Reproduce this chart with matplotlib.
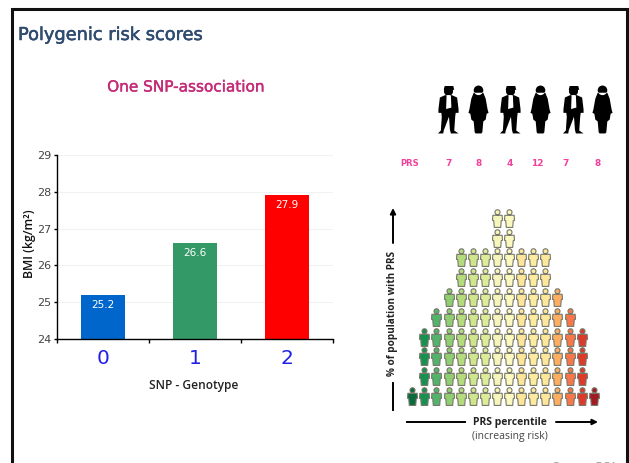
import matplotlib
matplotlib.use("Agg")
import matplotlib.pyplot as plt
import matplotlib.ticker as ticker
import matplotlib.patheffects as pe
from matplotlib.path import Path

W, H = 629, 463

# ---------------------------  Bar chart values  --------------------------- #
genotypes = ["0", "1", "2"]
bmi = [25.2, 26.6, 27.9]
bar_colors = ["#0066cc", "#339966", "#ff0000"]

# ---------------------------  Pictogram values  --------------------------- #
# Number of people stacked in each PRS percentile column (100 in total)
column_counts = [1, 4, 5, 6, 8, 8, 8, 10, 10, 8, 8, 8, 6, 5, 4, 1]
column_colors = ["#0b6b3a", "#17914f", "#52b36a", "#8fcf72", "#b4dc7c", "#cfe68c",
                 "#dcec98", "#f6f6bc", "#fbf8c0", "#fde59a", "#fdeb9f", "#fde79b",
                 "#fdae61", "#f8774a", "#dc3a2a", "#a01c24"]

# --------------------------  Individuals row  ----------------------------- #
prs_scores = ["7", "8", "4", "12", "7", "8"]
prs_label_x = [449, 479, 510, 537, 566, 598]
people_x = [448, 478, 510, 540, 573, 602]
people_kind = ["man", "woman", "man", "woman", "man", "woman"]


def person_marker():
    """Small pictogram figure: head plus stocky body."""
    body = Path([(-0.52, 0.36), (0.52, 0.36), (0.56, -0.2), (0.42, -0.24), (0.36, -1.0),
                 (-0.36, -1.0), (-0.42, -0.24), (-0.56, -0.2), (-0.52, 0.36)], closed=True)
    head = Path.circle((0, 0.7), 0.28)
    return Path.make_compound_path(head, body)


def man_marker():
    head = Path.circle((0.0, 0.76), 0.19)
    hat = Path([(-0.2, 0.82), (0.24, 0.82), (0.2, 0.98), (-0.16, 0.98), (-0.2, 0.82)], closed=True)
    body = Path([(-0.14, 0.6), (0.14, 0.6), (0.36, 0.5), (0.42, 0.0), (0.42, -0.14), (0.3, -0.14),
                 (0.28, -0.3), (0.24, -0.88), (0.42, -1.0), (0.1, -1.0), (0.06, -0.85),
                 (0.02, -0.3), (-0.2, -0.88), (-0.22, -1.0), (-0.44, -1.0), (-0.32, -0.88),
                 (-0.28, -0.3), (-0.3, -0.14), (-0.42, -0.14), (-0.42, 0.0),
                 (-0.36, 0.5), (-0.14, 0.6)], closed=True)
    return Path.make_compound_path(head, hat, body)


def shirt_marker():
    # The stray point keeps this marker on the same scale as the full figure
    anchor = Path([(0, 1.0), (0, 1.0)])
    shirt = Path([(-0.08, 0.58), (0.1, 0.58), (0.12, 0.08), (-0.1, 0.02), (-0.08, 0.58)], closed=True)
    return Path.make_compound_path(anchor, shirt)


def woman_marker():
    head = Path.circle((0.0, 0.8), 0.2)
    body = Path([(-0.2, 0.7), (0.2, 0.7), (0.3, 0.45), (0.38, 0.0), (0.42, -0.14), (0.34, -0.18),
                 (0.3, -0.42), (0.2, -0.5), (0.16, -0.95), (0.12, -1.0), (-0.12, -1.0), (-0.16, -0.95),
                 (-0.2, -0.5), (-0.3, -0.42), (-0.34, -0.18), (-0.42, -0.14), (-0.38, 0.0),
                 (-0.3, 0.45), (-0.2, 0.7)], closed=True)
    return Path.make_compound_path(head, body)


fig = plt.figure(figsize=(W / 100, H / 100), dpi=100, facecolor="white")

# Full-figure layer in pixel coordinates for the frame and free text
bg = fig.add_axes([0, 0, 1, 1])
bg.set_xlim(0, W)
bg.set_ylim(H, 0)
bg.axis("off")

bg.plot([11.5, 11.5, 626.5, 626.5], [H + 5, 8.5, 8.5, H + 5], color="#111111", lw=2.2,
        solid_joinstyle="miter")

# A thin stroke thickens the headings a little
title = bg.text(18, 35, "Polygenic risk scores", color="#2f4b6e", fontsize=12.8, va="center", ha="left")
title.set_path_effects([pe.withStroke(linewidth=0.4, foreground="#2f4b6e")])
subtitle = bg.text(186, 87, "One SNP-association", color="#c42b78", fontsize=11, va="center", ha="center")
subtitle.set_path_effects([pe.withStroke(linewidth=0.3, foreground="#c42b78")])
bg.text(553, 467, "Source: BCA", color="#999999", fontsize=7.5, va="center", ha="left", clip_on=True)

# ------------  Individuals with their scores  ------------ #
bg.text(410, 163, "PRS", color="#f0409c", fontsize=6, fontweight="bold", ha="center", va="center")
for x, score in zip(prs_label_x, prs_scores):
    bg.text(x, 163, score, color="#f0409c", fontsize=6.5, fontweight="bold", ha="center", va="center")

for x, kind in zip(people_x, people_kind):
    if kind == "man":
        bg.scatter([x], [109], marker=man_marker(), s=1190, color="black", linewidths=0)
        bg.scatter([x], [109], marker=shirt_marker(), s=1190, color="white", linewidths=0)
    else:
        bg.scatter([x], [109], marker=woman_marker(), s=1190, color="black", linewidths=0)

# ------------  PRS pictogram  ------------ #
grid = fig.add_axes([406.2 / W, 1 - 405.9 / H, 193.6 / W, 198 / H])
grid.set_xlim(-0.5, 15.5)
grid.set_ylim(-0.5, 9.5)
grid.axis("off")
grid.patch.set_alpha(0)
marker = person_marker()
for col, (count, color) in enumerate(zip(column_counts, column_colors)):
    grid.scatter([col] * count, list(range(count)), marker=marker, s=165, color=color,
                 edgecolors="#77776a", linewidths=0.8, zorder=2)

bg.set_zorder(0)
grid.set_zorder(1)

# Arrows around the pictogram
arrow = dict(arrowstyle="-|>", color="black", lw=1.4, mutation_scale=8, shrinkA=0, shrinkB=0)
bg.annotate("", xy=(393, 208), xytext=(393, 243), arrowprops=arrow)
bg.plot([393, 393], [383, 410], color="black", lw=1.4)
bg.plot([407, 465], [422, 422], color="black", lw=1.4)
bg.annotate("", xy=(598, 422), xytext=(556, 422), arrowprops=arrow)
bg.text(393, 313, "% of population with PRS", rotation=90, fontsize=7.2, fontweight="bold",
        ha="center", va="center", color="#222222", family="Open Sans")
bg.text(510, 422, "PRS percentile", fontsize=7.5, fontweight="bold", ha="center", va="center",
        color="#222222", family="Open Sans")
bg.text(510, 437, "(increasing risk)", fontsize=7.5, ha="center", va="center", color="#444444",
        family="Open Sans")

# ------------  BMI bars  ------------ #
ax = fig.add_axes([57 / W, 1 - 339 / H, 276 / W, 184 / H])
ax.set_zorder(2)
ax.patch.set_alpha(0)
xpos = range(len(genotypes))
ax.bar(xpos, bmi, width=0.48, color=bar_colors, zorder=2)
for x, value in zip(xpos, bmi):
    ax.annotate(f"{value:.1f}", (x, value), xytext=(0, -10), textcoords="offset pixels",
                color="white", fontsize=7.5, ha="center", va="center", zorder=3)

ax.set_xlim(-0.5, 2.5)
ax.set_ylim(24, 29)
ax.yaxis.set_major_locator(ticker.MultipleLocator(1))
ax.grid(axis="y", color="#f2f2f2", lw=0.8, zorder=0)
ax.spines["top"].set_visible(False)
ax.spines["right"].set_visible(False)
ax.spines["left"].set_linewidth(1.0)
ax.spines["bottom"].set_linewidth(1.0)

ax.set_xticks([-0.5, 0.5, 1.5, 2.5])
ax.set_xticklabels([])
ax.set_xticks(list(xpos), minor=True)
ax.set_xticklabels(genotypes, minor=True, color="#2020e8", fontsize=14.5)
ax.tick_params(axis="x", which="major", length=3, width=1)
ax.tick_params(axis="x", which="minor", length=0, pad=7)
ax.tick_params(axis="y", length=2.5, width=1, labelsize=8, labelcolor="#444444", pad=1.5)

bg.text(194, 386, "SNP - Genotype", fontsize=8.6, fontweight="semibold", ha="center", va="center",
        color="#222222", family="Open Sans")
bg.text(29, 244, "BMI (kg/m²)", fontsize=8.8, rotation=90, ha="center", va="center",
        color="#111111", family="Open Sans", fontweight="semibold")

fig.savefig("out.png", dpi=100)
